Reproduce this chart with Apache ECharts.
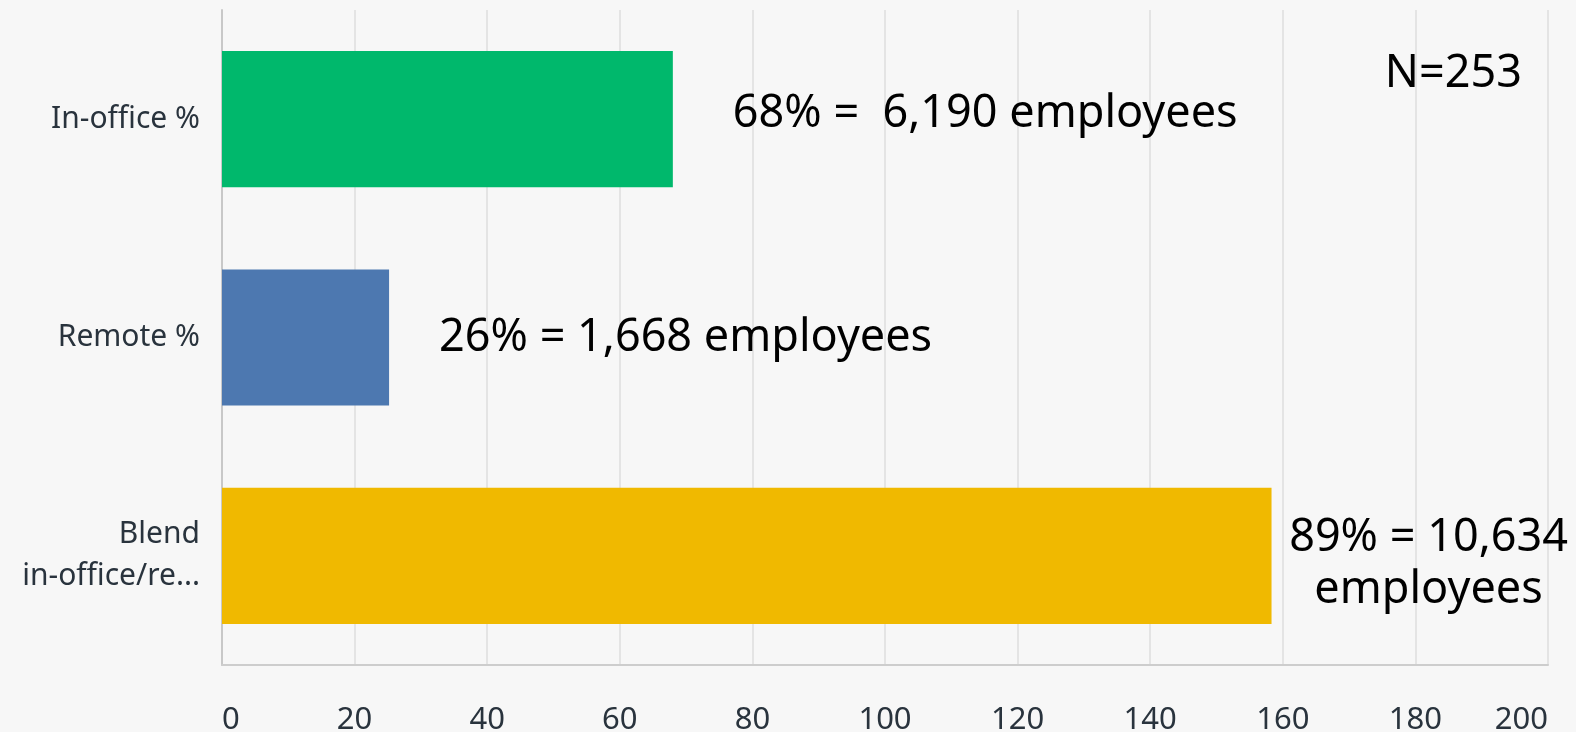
<!DOCTYPE html>
<html>
<head>
<meta charset="utf-8">
<script src="https://cdn.jsdelivr.net/npm/echarts@6/dist/echarts.min.js"></script>
<style>
html,body{margin:0;padding:0;background:#f7f7f7;}
#chart{width:1576px;height:732px;}
</style>
</head>
<body>
<div id="chart"></div>
<script>
// ---- data ----
const categories = ["In-office %", "Remote %", "Blend\nin-office/re..."];
const values = [68, 25.2, 158.3];
const annotations = ["68% =  6,190 employees", "26% = 1,668 employees", "89% = 10,634\nemployees"];
const barColors = ["#00b86c", "#4d78b0", "#f0b900"];
const noteText = "N=253";
const xMin = 0, xMax = 200, xStep = 20;

// ---- presentation ----
const labelStyles = [
  { distance: 60, offset: [0, -5], align: 'left' },
  { distance: 50, offset: [0, 1], align: 'left' },
  { distance: 157, offset: [0, 8], align: 'center' }
];

const chart = echarts.init(document.getElementById('chart'));
const annoFont = '"Noto Sans", sans-serif';
chart.setOption({
  backgroundColor: '#f7f7f7',
  animation: false,
  grid: { left: 222, right: 28, top: 10, bottom: 67, containLabel: false, outerBoundsMode: 'none' },
  xAxis: {
    type: 'value', min: xMin, max: xMax, interval: xStep,
    axisLine: { show: true, lineStyle: { color: '#cdcdcd', width: 2 } },
    axisTick: { show: false },
    splitLine: { show: true, lineStyle: { color: '#e4e4e4', width: 2 } },
    axisLabel: {
      fontSize: 31, color: '#29333d', margin: 40,
      fontFamily: '"Noto Sans", sans-serif',
      alignMinLabel: 'left', alignMaxLabel: 'right'
    }
  },
  yAxis: {
    type: 'category', inverse: true, data: categories,
    axisLine: { show: true, lineStyle: { color: '#c8c8c8', width: 2 } },
    axisTick: { show: false },
    axisLabel: {
      fontSize: 30, color: '#29333d', margin: 22, lineHeight: 42,
      padding: [10, 0, 0, 0],
      fontFamily: '"Noto Sans", sans-serif', align: 'right'
    }
  },
  series: [{
    type: 'bar',
    barCategoryGap: '37.6%',
    data: values.map((v, i) => ({
      value: v,
      itemStyle: { color: barColors[i] },
      label: {
        show: true, position: 'right',
        distance: labelStyles[i].distance,
        offset: labelStyles[i].offset,
        align: labelStyles[i].align,
        formatter: () => annotations[i],
        fontSize: 45, lineHeight: 52, color: '#000',
        fontFamily: annoFont
      }
    }))
  }],
  graphic: [{
    type: 'text',
    style: {
      x: 1522, y: 74, text: noteText, align: 'right', verticalAlign: 'middle',
      font: '45px "Noto Sans", sans-serif', fill: '#000'
    }
  }]
});
</script>
</body>
</html>
